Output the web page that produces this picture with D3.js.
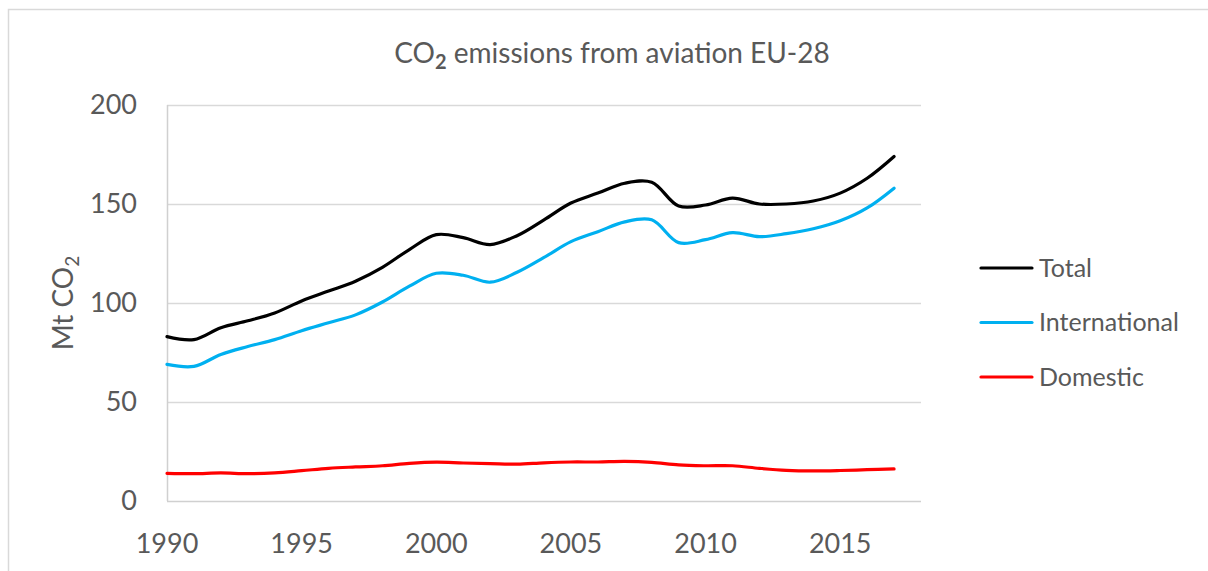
<!DOCTYPE html>
<html>
<head>
<meta charset="utf-8">
<script src="https://cdn.jsdelivr.net/npm/d3@7"></script>
<style>
	body { margin: 0; background: #fff; }
	text { font-family: Lato, "Open Sans", sans-serif; fill: #595959; }
</style>
</head>
<body>
<svg id="chart" width="1208" height="571"></svg>
<script>
// Data (Mt CO2)
const years = d3.range(1990, 2018);
const total = [83, 81.5, 87.5, 91, 95, 101, 106, 111, 118, 127, 134.5, 133, 129.5, 134, 142, 150.5, 155.5, 160.5, 161, 149, 149.5, 153, 150, 150, 151.5, 155.5, 163, 174];
const international = [69, 68, 74, 78, 81.5, 86, 90, 94, 100.5, 108.5, 115, 114, 110.5, 115.5, 123, 131, 136, 141, 142, 130.5, 132, 135.5, 133.5, 135, 137.5, 141.5, 148, 158];
const domestic = [14, 13.8, 14.2, 13.8, 14.2, 15.3, 16.5, 17.2, 17.8, 19, 19.6, 19.2, 18.9, 18.6, 19.3, 19.7, 19.7, 20, 19.5, 18.2, 17.8, 17.8, 16.5, 15.5, 15.2, 15.4, 15.8, 16.2];
const yTicks = [0, 50, 100, 150, 200];
const xTicks = [1990, 1995, 2000, 2005, 2010, 2015];

const series = [
	{ name: "Total", values: total, color: "#000000" },
	{ name: "International", values: international, color: "#00b0f0" },
	{ name: "Domestic", values: domestic, color: "#ff0000" }
];

const svg = d3.select("#chart");

// outer chart border (cut at right and bottom)
svg.append("rect")
	.attr("x", 8.5)
	.attr("y", 9.5)
	.attr("width", 1220)
	.attr("height", 600)
	.attr("fill", "none")
	.attr("stroke", "#d9d9d9")
	.attr("stroke-width", 1.5);

const x = d3.scaleLinear().domain([1990, 2018]).range([167, 921]);
const y = d3.scaleLinear().domain([0, 200]).range([501, 105]);

// Gridlines
svg.append("g")
	.selectAll("line")
		.data(yTicks.filter(d => d > 0))
		.enter()
		.append("line")
			.attr("x1", x(1990))
			.attr("x2", x(2018))
			.attr("y1", d => Math.round(y(d)) + 0.5)
			.attr("y2", d => Math.round(y(d)) + 0.5)
			.attr("stroke", "#d9d9d9")
			.attr("stroke-width", 1.5);

// Axes lines
svg.append("line")
	.attr("x1", x(1990) + 0.5).attr("x2", x(1990) + 0.5)
	.attr("y1", y(200)).attr("y2", y(0))
	.attr("stroke", "#d0d0d0").attr("stroke-width", 1.5);
svg.append("line")
	.attr("x1", x(1990)).attr("x2", x(2018))
	.attr("y1", y(0) + 0.5).attr("y2", y(0) + 0.5)
	.attr("stroke", "#d0d0d0").attr("stroke-width", 1.5);

// Tick labels
svg.append("g")
	.selectAll("text")
		.data(yTicks)
		.enter()
		.append("text")
			.attr("x", 137)
			.attr("y", d => y(d))
			.attr("dy", "0.35em")
			.attr("text-anchor", "end")
			.style("font-size", "27px")
			.text(d => d);

svg.append("g")
	.selectAll("text")
		.data(xTicks)
		.enter()
		.append("text")
			.attr("x", d => x(d))
			.attr("y", 553)
			.attr("text-anchor", "middle")
			.style("font-size", "27px")
			.text(d => d);

// Title
const title = svg.append("text")
	.attr("x", 612)
	.attr("y", 63)
	.attr("text-anchor", "middle")
	.style("font-size", "28px");
title.append("tspan").text("CO");
title.append("tspan").attr("dy", 6).style("font-size", "20px").style("font-weight", "bold").text("2");
title.append("tspan").attr("dy", -6).text(" emissions from aviation EU-28");

// Y axis title
const yTitle = svg.append("text")
	.attr("transform", "translate(73,303) rotate(-90)")
	.attr("text-anchor", "middle")
	.style("font-size", "28px");
yTitle.append("tspan").text("Mt CO");
yTitle.append("tspan").attr("dy", 6).style("font-size", "19px").text("2");

// Lines
const line = d3.line()
	.x((d, i) => x(years[i]))
	.y(d => y(d))
	.curve(d3.curveCatmullRom.alpha(0.5));

svg.append("g")
	.selectAll("path")
		.data(series)
		.enter()
		.append("path")
			.attr("d", d => line(d.values))
			.attr("fill", "none")
			.attr("stroke", d => d.color)
			.attr("stroke-width", 3.2)
			.attr("stroke-linecap", "round")
			.attr("stroke-linejoin", "round");

// Legend
const legend = svg.append("g")
	.selectAll("g")
		.data(series)
		.enter()
		.append("g")
			.attr("transform", (d, i) => `translate(0,${268 + i * 54.5})`);

legend.append("line")
	.attr("x1", 981).attr("x2", 1032)
	.attr("stroke", d => d.color)
	.attr("stroke-width", 3.2)
	.attr("stroke-linecap", "round");

legend.append("text")
	.attr("x", 1039)
	.attr("dy", "0.35em")
	.style("font-size", "25px")
	.text(d => d.name);
</script>
</body>
</html>
